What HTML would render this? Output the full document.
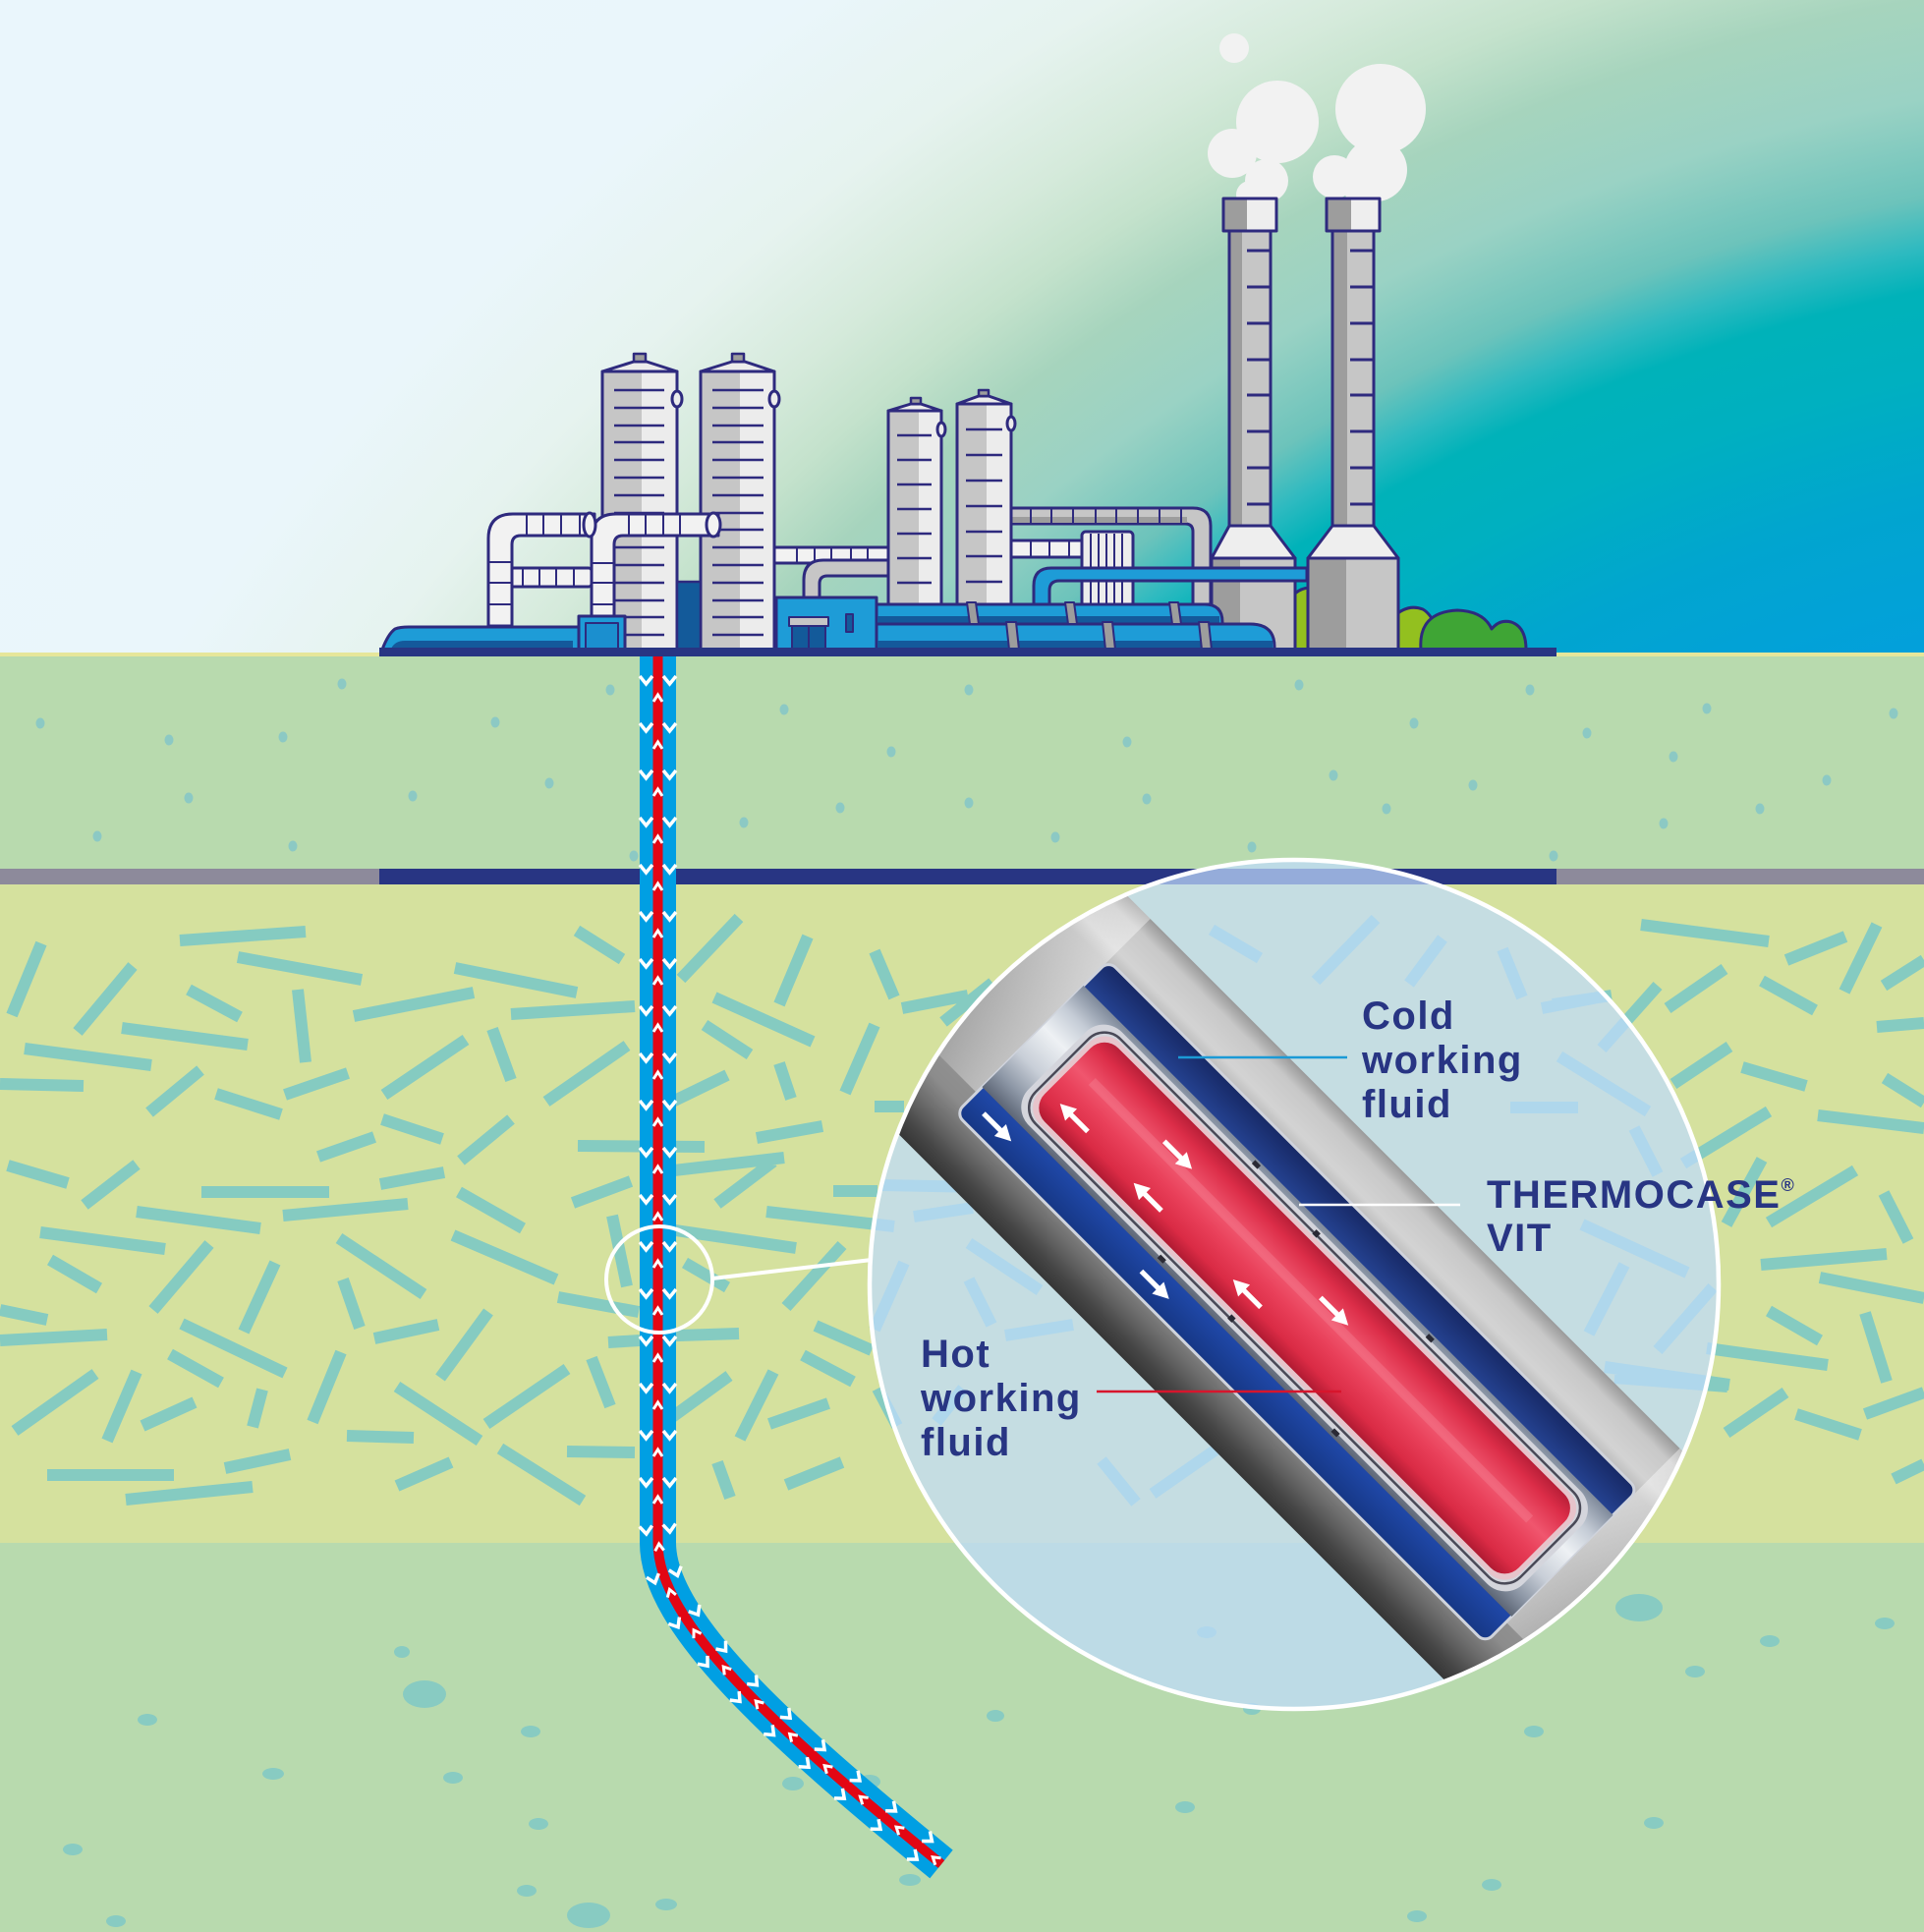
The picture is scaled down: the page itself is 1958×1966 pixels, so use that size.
<!DOCTYPE html>
<html><head><meta charset="utf-8"><style>
html,body{margin:0;padding:0;background:#fff}
svg{display:block}
text{font-family:"Liberation Sans",Arial,sans-serif;font-weight:bold;fill:#283583;font-size:40px;letter-spacing:1.5px}
</style></head><body>
<svg width="1958" height="1966" viewBox="0 0 1958 1966" xmlns="http://www.w3.org/2000/svg">
<defs>
 <radialGradient id="sky" gradientUnits="userSpaceOnUse" cx="2330" cy="2115" r="3000" fx="2330" fy="2115">
  <stop offset="0.5" stop-color="#03a0db"/>
  <stop offset="0.55" stop-color="#01a5cf"/>
  <stop offset="0.591" stop-color="#00b0c0"/>
  <stop offset="0.619" stop-color="#00b2b9"/>
  <stop offset="0.633" stop-color="#2ebac0"/>
  <stop offset="0.65" stop-color="#6cc3bb"/>
  <stop offset="0.683" stop-color="#9ad2c4"/>
  <stop offset="0.716" stop-color="#a6d4bd"/>
  <stop offset="0.744" stop-color="#c4e2cc"/>
  <stop offset="0.77" stop-color="#d5eadb"/>
  <stop offset="0.81" stop-color="#e6f3ef"/>
  <stop offset="0.867" stop-color="#eaf6fb"/>
  <stop offset="1" stop-color="#eaf6fc"/>
 </radialGradient>
 <linearGradient id="outer" gradientUnits="userSpaceOnUse" x1="0" y1="-168" x2="0" y2="168">
  <stop offset="0" stop-color="#9a9a9a"/>
  <stop offset="0.05" stop-color="#c8c8c8"/>
  <stop offset="0.14" stop-color="#d3d3d3"/>
  <stop offset="0.19" stop-color="#bababa"/>
  <stop offset="0.5" stop-color="#a0a0a0"/>
  <stop offset="0.8" stop-color="#8c8c8c"/>
  <stop offset="0.88" stop-color="#6a6a6a"/>
  <stop offset="0.95" stop-color="#474747"/>
  <stop offset="1" stop-color="#363636"/>
 </linearGradient>
 <linearGradient id="endL" gradientUnits="userSpaceOnUse" x1="-375" y1="0" x2="-480" y2="0">
  <stop offset="0" stop-color="#ffffff" stop-opacity="0.4"/>
  <stop offset="1" stop-color="#ffffff" stop-opacity="0"/>
 </linearGradient>
 <linearGradient id="endR" gradientUnits="userSpaceOnUse" x1="387" y1="0" x2="490" y2="0">
  <stop offset="0" stop-color="#ffffff" stop-opacity="0.4"/>
  <stop offset="1" stop-color="#ffffff" stop-opacity="0"/>
 </linearGradient>
 <linearGradient id="blueband" gradientUnits="userSpaceOnUse" x1="0" y1="-108" x2="0" y2="112">
  <stop offset="0" stop-color="#172966"/>
  <stop offset="0.16" stop-color="#24418f"/>
  <stop offset="0.5" stop-color="#22408f"/>
  <stop offset="0.84" stop-color="#1f47a6"/>
  <stop offset="1" stop-color="#163785"/>
 </linearGradient>
 <linearGradient id="silver" gradientUnits="userSpaceOnUse" x1="0" y1="-72" x2="0" y2="74">
  <stop offset="0" stop-color="#7f8a9b"/>
  <stop offset="0.2" stop-color="#c5ccd6"/>
  <stop offset="0.4" stop-color="#eef1f4"/>
  <stop offset="0.65" stop-color="#c9cfd8"/>
  <stop offset="0.85" stop-color="#8d97a6"/>
  <stop offset="1" stop-color="#5d6676"/>
 </linearGradient>
 <linearGradient id="red" gradientUnits="userSpaceOnUse" x1="0" y1="-52" x2="0" y2="54">
  <stop offset="0" stop-color="#b91f38"/>
  <stop offset="0.15" stop-color="#dc2d48"/>
  <stop offset="0.42" stop-color="#f0566e"/>
  <stop offset="0.6" stop-color="#e9405a"/>
  <stop offset="0.85" stop-color="#da2b45"/>
  <stop offset="1" stop-color="#b01a32"/>
 </linearGradient>
 <clipPath id="cc" clipPathUnits="userSpaceOnUse"><circle cx="1317" cy="1307" r="432"/></clipPath>
 <marker id="chev" markerUnits="userSpaceOnUse" orient="auto" markerWidth="80" markerHeight="80" refX="0" refY="0" style="overflow:visible">
  <path d="M-5,-18.5 L3,-12 L-5,-5.5 M-5,5.5 L3,12 L-5,18.5" fill="none" stroke="#fff" stroke-width="3.5"/>
  <path d="M21,-4.5 L14,0 L21,4.5" fill="none" stroke="#fff" stroke-width="3"/>
 </marker>
 <path id="arr" d="M-20,-2.6 H4 V-8.5 L20,0 L4,8.5 V2.6 H-20 Z" fill="#fff"/>
</defs>

<!-- SKY -->
<rect x="0" y="0" width="1958" height="668" fill="url(#sky)"/>

<!-- GROUND LAYERS -->
<rect x="0" y="664" width="1958" height="4" fill="#e6e69a"/>
<rect x="0" y="668" width="1958" height="216" fill="#b8daae"/>
<rect x="0" y="884" width="1958" height="16" fill="#8d8a9b"/>
<rect x="386" y="884" width="1198" height="16" fill="#283583"/>
<rect x="0" y="900" width="1958" height="670" fill="#d5e19e"/>
<rect x="0" y="1570" width="1958" height="396" fill="#b8daae"/>

<!-- dots layer 1 -->
<g fill="#8cc9c4">
<ellipse cx="41" cy="736" rx="4.5" ry="5.5"/><ellipse cx="172" cy="753" rx="4.5" ry="5.5"/><ellipse cx="288" cy="750" rx="4.5" ry="5.5"/><ellipse cx="348" cy="696" rx="4.5" ry="5.5"/><ellipse cx="192" cy="812" rx="4.5" ry="5.5"/><ellipse cx="99" cy="851" rx="4.5" ry="5.5"/><ellipse cx="298" cy="861" rx="4.5" ry="5.5"/><ellipse cx="420" cy="810" rx="4.5" ry="5.5"/><ellipse cx="504" cy="735" rx="4.5" ry="5.5"/><ellipse cx="559" cy="797" rx="4.5" ry="5.5"/><ellipse cx="621" cy="702" rx="4.5" ry="5.5"/><ellipse cx="645" cy="871" rx="4.5" ry="5.5"/><ellipse cx="757" cy="837" rx="4.5" ry="5.5"/><ellipse cx="798" cy="722" rx="4.5" ry="5.5"/><ellipse cx="855" cy="822" rx="4.5" ry="5.5"/><ellipse cx="907" cy="765" rx="4.5" ry="5.5"/><ellipse cx="986" cy="702" rx="4.5" ry="5.5"/><ellipse cx="986" cy="817" rx="4.5" ry="5.5"/><ellipse cx="1074" cy="852" rx="4.5" ry="5.5"/><ellipse cx="1147" cy="755" rx="4.5" ry="5.5"/><ellipse cx="1167" cy="813" rx="4.5" ry="5.5"/><ellipse cx="1274" cy="862" rx="4.5" ry="5.5"/><ellipse cx="1322" cy="697" rx="4.5" ry="5.5"/><ellipse cx="1357" cy="789" rx="4.5" ry="5.5"/><ellipse cx="1411" cy="823" rx="4.5" ry="5.5"/><ellipse cx="1439" cy="736" rx="4.5" ry="5.5"/><ellipse cx="1499" cy="799" rx="4.5" ry="5.5"/><ellipse cx="1557" cy="702" rx="4.5" ry="5.5"/><ellipse cx="1581" cy="871" rx="4.5" ry="5.5"/><ellipse cx="1615" cy="746" rx="4.5" ry="5.5"/><ellipse cx="1693" cy="838" rx="4.5" ry="5.5"/><ellipse cx="1703" cy="770" rx="4.5" ry="5.5"/><ellipse cx="1737" cy="721" rx="4.5" ry="5.5"/><ellipse cx="1791" cy="823" rx="4.5" ry="5.5"/><ellipse cx="1859" cy="794" rx="4.5" ry="5.5"/><ellipse cx="1927" cy="726" rx="4.5" ry="5.5"/>
</g>

<!-- dots bottom layer -->
<g fill="#88cbc2">
<ellipse cx="432" cy="1724" rx="22" ry="14"/><ellipse cx="409" cy="1681" rx="8" ry="6"/><ellipse cx="150" cy="1750" rx="10" ry="6"/><ellipse cx="278" cy="1805" rx="11" ry="6"/><ellipse cx="461" cy="1809" rx="10" ry="6"/><ellipse cx="540" cy="1762" rx="10" ry="6"/><ellipse cx="548" cy="1856" rx="10" ry="6"/><ellipse cx="74" cy="1882" rx="10" ry="6"/><ellipse cx="118" cy="1955" rx="10" ry="6"/><ellipse cx="536" cy="1924" rx="10" ry="6"/><ellipse cx="599" cy="1949" rx="22" ry="13"/><ellipse cx="678" cy="1938" rx="11" ry="6"/><ellipse cx="807" cy="1815" rx="11" ry="7"/><ellipse cx="885" cy="1813" rx="11" ry="7"/><ellipse cx="926" cy="1913" rx="11" ry="6"/><ellipse cx="1206" cy="1839" rx="10" ry="6"/><ellipse cx="1668" cy="1636" rx="24" ry="14"/><ellipse cx="1725" cy="1701" rx="10" ry="6"/><ellipse cx="1801" cy="1670" rx="10" ry="6"/><ellipse cx="1918" cy="1652" rx="10" ry="6"/><ellipse cx="1561" cy="1762" rx="10" ry="6"/><ellipse cx="1683" cy="1855" rx="10" ry="6"/><ellipse cx="1518" cy="1918" rx="10" ry="6"/><ellipse cx="1442" cy="1950" rx="10" ry="6"/><ellipse cx="1013" cy="1746" rx="9" ry="6"/><ellipse cx="1228" cy="1661" rx="10" ry="6"/><ellipse cx="1274" cy="1739" rx="9" ry="6"/>
</g>

<!-- rock sticks -->
<path fill="none" stroke="#85cbc1" stroke-width="12" d="
M12,1033L42,960 M79,1050L135,983 M183,957L311,948 M242,974L368,997 M192,1007L244,1035 M124,1046L252,1063 M25,1067L154,1084 M0,1103L85,1105 M303,1007L311,1081 M152,1132L204,1089 M220,1113L286,1134 M290,1114L354,1092 M360,1034L482,1010 M463,985L587,1010 M391,1114L474,1058 M501,1047L520,1099 M520,1032L646,1024 M587,947L633,976 M556,1121L638,1064 M389,1139L450,1159 M469,1181L520,1139 M324,1177L381,1157 M8,1186L69,1204 M86,1226L139,1185 M205,1213L335,1213 M139,1233L265,1250 M288,1237L415,1225 M387,1205L452,1193 M467,1213L532,1250 M583,1224L642,1202 M41,1254L168,1271 M51,1282L101,1311 M156,1333L213,1266 M248,1355L280,1285 M345,1260L431,1317 M349,1302L366,1351 M461,1257L566,1302 M623,1237L638,1309 M568,1320L650,1335 M0,1333L48,1343 M0,1364L109,1358 M185,1347L290,1397 M173,1378L225,1407 M381,1362L446,1348 M448,1402L497,1335 M15,1456L97,1398 M109,1466L139,1396 M145,1451L198,1427 M257,1452L267,1414 M318,1447L347,1376 M404,1411L488,1466 M495,1449L577,1393 M602,1382L621,1431 M353,1461L421,1463 M48,1501L177,1501 M229,1494L295,1480 M128,1526L257,1513 M404,1512L459,1488 M509,1474L593,1527 M577,1477L646,1478 M588,1166L717,1167 M619,1366L651,1364
M693,996L752,934 M793,1022L822,953 M727,1015L827,1060 M717,1043L763,1073 M890,968L910,1015 M918,1026L985,1013 M860,1112L890,1043 M670,1128L740,1094 M793,1082L805,1118 M770,1158L837,1146 M660,1194L798,1178 M730,1225L787,1182 M848,1212L893,1212 M890,1126L920,1126 M780,1233L910,1248 M660,1248L810,1270 M697,1285L740,1310 M800,1330L857,1267 M660,1360L752,1357 M830,1349L887,1374 M817,1379L868,1406 M680,1445L742,1400 M753,1464L787,1396 M783,1449L843,1428 M730,1488L743,1524 M800,1511L857,1488
M1670,941L1800,958 M1818,977L1878,953 M1877,1009L1910,941 M1917,1003L1958,977 M1697,1026L1755,986 M1793,998L1847,1028 M1630,1067L1687,1003 M1910,1045L1958,1041 M1703,1103L1760,1065 M1773,1086L1838,1105 M1918,1097L1958,1122 M1850,1135L1958,1148 M1713,1184L1800,1131 M1757,1246L1793,1180 M1800,1244L1888,1191 M1917,1214L1942,1263 M1792,1287L1920,1276 M1852,1300L1958,1321 M1800,1334L1852,1364 M1898,1336L1920,1406 M1737,1372L1860,1389 M1757,1458L1817,1417 M1828,1439L1893,1460 M1898,1439L1958,1417 M1927,1505L1958,1490
M1580,1022L1640,1013 M1587,1075L1677,1131 M1663,1148L1687,1195 M1610,1246L1717,1295 M1617,1357L1653,1287 M1687,1374L1743,1310 M1633,1391L1760,1409 M1233,946L1282,975 M1339,998L1400,935 M1434,1001L1468,955 M1529,966L1549,1015 M1569,1026L1626,1015 M1537,1127L1606,1127 M986,1265L1058,1313 M986,1302L1009,1348 M1023,1359L1092,1348 M1121,1486L1156,1529 M1173,1520L1239,1474 M1643,1402L1758,1411 M897,1206L1000,1208 M930,1238L990,1229 M890,1353L920,1285 M893,1413L913,1451 M953,1447L980,1413 M1000,1100L1060,1140 M960,1040L1010,1000 M1080,960L1140,930
"/>

<!-- FACTORY -->
<g stroke="#2e2a7e" stroke-width="3" stroke-linejoin="round">
 <!-- smoke -->
 <g fill="#f2f2f2" stroke="none">
  <circle cx="1256" cy="49" r="15"/>
  <circle cx="1300" cy="124" r="42"/>
  <circle cx="1254" cy="156" r="25"/>
  <circle cx="1289" cy="184" r="22"/>
  <circle cx="1272" cy="198" r="14"/>
  <circle cx="1405" cy="111" r="46"/>
  <circle cx="1400" cy="173" r="32"/>
  <circle cx="1358" cy="180" r="22"/>
  <circle cx="1385" cy="196" r="16"/>
 </g>
 <!-- light green bush -->
 <path d="M1312,661 V612 Q1320,596 1340,598 L1340,661 Z" fill="#93c01f"/>
 <path d="M1418,661 V628 Q1432,614 1448,620 Q1462,628 1466,661 Z" fill="#93c01f"/>
 <!-- chimney 1 -->
 <rect x="1233" y="568" width="29" height="93" fill="#9d9d9d" stroke="none"/>
 <rect x="1262" y="568" width="56" height="93" fill="#c6c6c6" stroke="none"/>
 <rect x="1233" y="568" width="85" height="93" fill="none"/>
 <rect x="1251" y="235" width="13" height="300" fill="#9d9d9d" stroke="none"/>
 <rect x="1264" y="235" width="29" height="300" fill="#c6c6c6" stroke="none"/>
 <rect x="1251" y="235" width="42" height="300" fill="none"/>
 <path d="M1269,255h24M1269,292h24M1269,329h24M1269,366h24M1269,402h24M1269,439h24M1269,476h24M1269,513h24" fill="none"/>
 <polygon points="1251,535 1293,535 1318,568 1233,568" fill="#eeeeee"/>
 <rect x="1245" y="202" width="24" height="33" fill="#9d9d9d" stroke="none"/>
 <rect x="1269" y="202" width="30" height="33" fill="#eeeeee" stroke="none"/>
 <rect x="1245" y="202" width="54" height="33" fill="none"/>
 <!-- chimney 2 -->
 <rect x="1331" y="568" width="39" height="93" fill="#9d9d9d" stroke="none"/>
 <rect x="1370" y="568" width="53" height="93" fill="#c6c6c6" stroke="none"/>
 <rect x="1331" y="568" width="92" height="93" fill="none"/>
 <rect x="1356" y="235" width="15" height="300" fill="#9d9d9d" stroke="none"/>
 <rect x="1371" y="235" width="27" height="300" fill="#c6c6c6" stroke="none"/>
 <rect x="1356" y="235" width="42" height="300" fill="none"/>
 <path d="M1374,255h24M1374,292h24M1374,329h24M1374,366h24M1374,402h24M1374,439h24M1374,476h24M1374,513h24" fill="none"/>
 <polygon points="1356,535 1398,535 1423,568 1331,568" fill="#eeeeee"/>
 <rect x="1350" y="202" width="25" height="33" fill="#9d9d9d" stroke="none"/>
 <rect x="1375" y="202" width="29" height="33" fill="#eeeeee" stroke="none"/>
 <rect x="1350" y="202" width="54" height="33" fill="none"/>
 <!-- dark green bush -->
 <path d="M1446,661 Q1443,623 1483,621 Q1510,622 1518,640 Q1526,630 1538,633 Q1553,638 1553,661 Z" fill="#3fa535"/>

 <!-- gray pipe right of tower 4 -->
 <path d="M1029,517 H1214 Q1232,517 1232,535 V615 H1214 V541 Q1214,533 1206,533 H1029 Z" fill="#c6c6c6"/>
 <rect x="1030" y="526" width="178" height="6" fill="#9d9d9d" stroke="none"/>
 <path d="M1049,517v16M1070,517v16M1092,517v16M1115,517v16M1136,517v16M1158,517v16M1180,517v16M1202,517v16" fill="none" stroke-width="2"/>
 <!-- white pipe and bundle -->
 <rect x="1029" y="550" width="78" height="17" fill="#f2f2f2"/>
 <path d="M1049,550v17M1068,550v17M1088,550v17" fill="none" stroke-width="2"/>
 <rect x="1101" y="541" width="52" height="76" rx="4" fill="#ececec"/>
 <path d="M1110,543v72M1118,543v72M1126,543v72M1134,543v72M1142,543v72" fill="none" stroke-width="2"/>
 <!-- thin blue pipe -->
 <path d="M1052,615 V596 Q1052,578 1070,578 H1330 V591 H1078 Q1068,591 1068,601 V615 Z" fill="#1e9cd7"/>

 <!-- tower 3 -->
 <rect x="904" y="418" width="31" height="222" fill="#c6c6c6" stroke="none"/>
 <rect x="935" y="418" width="23" height="222" fill="#ececec" stroke="none"/>
 <rect x="904" y="418" width="54" height="222" fill="none"/>
 <polygon points="904,418 927,411 937,411 958,418" fill="#ececec"/>
 <rect x="927" y="405" width="10" height="6" fill="#9d9d9d" stroke-width="2.5"/>
 <path d="M913,443h35M913,468h35M913,493h35M913,518h35M913,543h35M913,568h35M913,593h35" fill="none" stroke-width="2.5"/>
 <ellipse cx="958" cy="437" rx="4" ry="7" fill="#ececec"/>
 <!-- tower 4 -->
 <rect x="974" y="411" width="30" height="229" fill="#c6c6c6" stroke="none"/>
 <rect x="1004" y="411" width="25" height="229" fill="#ececec" stroke="none"/>
 <rect x="974" y="411" width="55" height="229" fill="none"/>
 <polygon points="974,411 996,403 1006,403 1029,411" fill="#ececec"/>
 <rect x="996" y="397" width="10" height="6" fill="#9d9d9d" stroke-width="2.5"/>
 <path d="M983,437h37M983,463h37M983,489h37M983,515h37M983,541h37M983,566h37M983,592h37" fill="none" stroke-width="2.5"/>
 <ellipse cx="1029" cy="431" rx="4" ry="7" fill="#ececec"/>

 <!-- pipes between tower 2 and 3 -->
 <rect x="788" y="557" width="116" height="16" fill="#f2f2f2"/>
 <path d="M811,557v16M829,557v16M846,557v16M866,557v16M883,557v16" fill="none" stroke-width="2"/>
 <path d="M818,608 V590 Q818,570 838,570 H904 V586 H842 Q834,586 834,594 V608 Z" fill="#c6c6c6"/>

 <!-- tower 1 -->
 <rect x="613" y="378" width="40" height="283" fill="#c6c6c6" stroke="none"/>
 <rect x="653" y="378" width="36" height="283" fill="#ececec" stroke="none"/>
 <rect x="613" y="378" width="76" height="283" fill="none"/>
 <polygon points="613,378 645,368 658,368 689,378" fill="#ececec"/>
 <rect x="645" y="360" width="12" height="8" fill="#9d9d9d" stroke-width="2.5"/>
 <path d="M625,397h51M625,415h51M625,433h51M625,450h51M625,468h51M625,486h51M625,504h51M625,522h51M625,539h51M625,557h51M625,575h51M625,593h51M625,611h51M625,628h51M625,646h51" fill="none" stroke-width="2.5"/>
 <ellipse cx="689" cy="406" rx="5" ry="8" fill="#ececec"/>
 <!-- tower 2 -->
 <rect x="713" y="378" width="40" height="283" fill="#c6c6c6" stroke="none"/>
 <rect x="753" y="378" width="35" height="283" fill="#ececec" stroke="none"/>
 <rect x="713" y="378" width="75" height="283" fill="none"/>
 <polygon points="713,378 745,368 758,368 788,378" fill="#ececec"/>
 <rect x="745" y="360" width="12" height="8" fill="#9d9d9d" stroke-width="2.5"/>
 <path d="M725,397h52M725,415h52M725,433h52M725,450h52M725,468h52M725,486h52M725,504h52M725,522h52M725,539h52M725,557h52M725,575h52M725,593h52M725,611h52M725,628h52M725,646h52" fill="none" stroke-width="2.5"/>
 <ellipse cx="788" cy="406" rx="5" ry="8" fill="#ececec"/>
 <!-- dark wall -->
 <rect x="689" y="592" width="24" height="69" fill="#135a9a" stroke-width="2.5"/>

 <!-- white pipes A, B -->
 <rect x="514" y="578" width="88" height="19" rx="3" fill="#f2f2f2"/>
 <path d="M532,578v19M549,578v19M566,578v19M584,578v19" fill="none" stroke-width="2"/>
 <ellipse cx="516" cy="587.5" rx="4" ry="10" fill="#f2f2f2"/>
 <path d="M497,637 V548 Q497,523 522,523 H605 V545 H530 Q521,545 521,554 V637 Z" fill="#f2f2f2"/>
 <path d="M498,572h22M498,593h22M498,615h22M536,524v20M553,524v20M571,524v20M590,524v20" fill="none" stroke-width="2"/>
 <path d="M602,627 V548 Q602,523 627,523 H731 V545 H634 Q625,545 625,554 V627 Z" fill="#f2f2f2"/>
 <path d="M603,573h21M603,593h21M603,615h21M640,524v20M657,524v20M675,524v20M692,524v20" fill="none" stroke-width="2"/>
 <ellipse cx="726" cy="534" rx="7" ry="12" fill="#f2f2f2"/>
 <ellipse cx="600" cy="534" rx="6" ry="12" fill="#f2f2f2"/>

 <!-- left blue tank -->
 <path d="M389,661 Q395,645 402,640 Q407,638 416,638 H590 V661 Z" fill="#1e9cd7"/>
 <path d="M398,660 Q402,652 412,652 H583 V660 Z" fill="#14599b" stroke="none"/>
 <rect x="589" y="627" width="47" height="34" fill="#1e9cd7"/>
 <rect x="596" y="634" width="33" height="27" fill="#1b8fcf" stroke-width="2"/>
 <!-- building -->
 <rect x="790" y="608" width="102" height="53" fill="#1e9cd7"/>
 <rect x="803" y="628" width="40" height="9" fill="#c6c6c6" stroke-width="2"/>
 <rect x="806" y="637" width="34" height="24" fill="#135a9a" stroke-width="2"/>
 <path d="M823,637v24" fill="none" stroke-width="2"/>
 <rect x="861" y="625" width="7" height="18" fill="#135a9a" stroke-width="2"/>
 <!-- big blue pipes -->
 <path d="M892,615 H1226 Q1244,615 1244,633 V636 H892 Z" fill="#1e9cd7"/>
 <rect x="893" y="627" width="348" height="8" fill="#14599b" stroke="none"/>
 <path d="M892,635 H1272 Q1297,635 1297,658 V661 H892 Z" fill="#1e9cd7"/>
 <rect x="893" y="652" width="402" height="8" fill="#14599b" stroke="none"/>
 <g fill="#9d9d9d" stroke-width="2">
  <polygon points="984,613 993,613 996,635 987,635"/>
  <polygon points="1084,613 1093,613 1096,635 1087,635"/>
  <polygon points="1190,613 1199,613 1202,635 1193,635"/>
  <polygon points="1024,633 1034,633 1037,661 1027,661"/>
  <polygon points="1122,633 1132,633 1135,661 1125,661"/>
  <polygon points="1220,633 1230,633 1233,661 1223,661"/>
 </g>
</g>
<!-- ground line -->
<rect x="386" y="659" width="1198" height="9" fill="#283583"/>

<!-- BOREHOLE -->
<path d="M669.5,668 V1570 C669.5,1650 790,1760 958,1897" fill="none" stroke="#009fe3" stroke-width="37"/>
<path d="M669.5,668 V1570 C669.5,1650 790,1760 958,1897" fill="none" stroke="#e30613" stroke-width="10"/>
<polyline fill="none" stroke="none" marker-mid="url(#chev)" points="669.5,668 669.5,693 669.5,741 669.5,789 669.5,837 669.5,885 669.5,933 669.5,981 669.5,1029 669.5,1077 669.5,1125 669.5,1173 669.5,1221 669.5,1269 669.5,1317 669.5,1365 669.5,1413 669.5,1461 669.5,1509 669.5,1557 677.1,1604.2 698.7,1646.9 727.4,1685.3 759.6,1720.9 793.6,1754.8 828.8,1787.4 864.8,1819.1 901.4,1850.2 938.5,1880.9 958,1897"/>

<!-- small circle and connector -->
<circle cx="671" cy="1302" r="54" fill="none" stroke="#fff" stroke-width="4"/>
<line x1="725" y1="1301" x2="887" y2="1282" stroke="#fff" stroke-width="4"/>

<!-- MAGNIFIER -->
<circle cx="1317" cy="1307" r="432" fill="rgb(191,219,252)" fill-opacity="0.72"/>
<g clip-path="url(#cc)">
 <g transform="translate(1317,1319) rotate(45)">
  <rect x="-700" y="-168" width="1400" height="336" fill="url(#outer)"/>
  <rect x="-490" y="-168" width="115" height="250" fill="url(#endL)"/>
  <rect x="387" y="-168" width="110" height="250" fill="url(#endR)"/>
  <rect x="-375" y="-108" width="762" height="220" rx="10" fill="url(#blueband)" stroke="#cfd3dc" stroke-width="3"/>
  <rect x="-375" y="-72" width="762" height="146" fill="url(#silver)"/>
  <rect x="-340" y="-66" width="712" height="134" rx="26" fill="#d4d5dc"/>
  <rect x="-333" y="-60" width="698" height="122" rx="23" fill="none" stroke="#4a4a58" stroke-width="2.5"/>
  <rect x="-330" y="-57" width="692" height="116" rx="22" fill="#e7c4cb"/>
  <rect x="-325" y="-52" width="682" height="106" rx="20" fill="url(#red)"/>
  <rect x="-300" y="-14" width="630" height="10" fill="#f6899a" fill-opacity="0.35"/>
  <g fill="#2a2a35">
   <rect x="-32" y="-64" width="6" height="6"/>
   <rect x="-32" y="58" width="6" height="6"/>
   <rect x="-126" y="-70" width="8" height="5"/>
   <rect x="124" y="-70" width="8" height="5"/>
   <rect x="-126" y="66" width="8" height="5"/>
   <rect x="124" y="66" width="8" height="5"/>
  </g>
  <use href="#arr" transform="translate(-335,92)"/>
  <use href="#arr" transform="translate(-108,92)"/>
  <use href="#arr" transform="translate(-185,-18)"/>
  <use href="#arr" transform="translate(40,-18)"/>
  <use href="#arr" transform="translate(-287,30) rotate(180)"/>
  <use href="#arr" transform="translate(-177,34) rotate(180)"/>
  <use href="#arr" transform="translate(-36,32) rotate(180)"/>
 </g>
</g>
<!-- leader lines -->
<line x1="1199" y1="1076" x2="1371" y2="1076" stroke="#1b9ad6" stroke-width="2.5"/>
<line x1="1322" y1="1226" x2="1486" y2="1226" stroke="#ffffff" stroke-width="2.5"/>
<line x1="1116" y1="1416" x2="1365" y2="1416" stroke="#d7152c" stroke-width="2.5"/>
<circle cx="1317" cy="1307" r="432" fill="none" stroke="#fff" stroke-width="4.5"/>

<!-- LABELS -->
<text x="1386" y="1047">Cold</text>
<text x="1386" y="1092">working</text>
<text x="1386" y="1137">fluid</text>
<text x="1513" y="1229">THERMOCASE<tspan font-size="18" dy="-17">®</tspan></text>
<text x="1513" y="1273">VIT</text>
<text x="937" y="1391">Hot</text>
<text x="937" y="1436">working</text>
<text x="937" y="1481">fluid</text>
</svg>
</body></html>
